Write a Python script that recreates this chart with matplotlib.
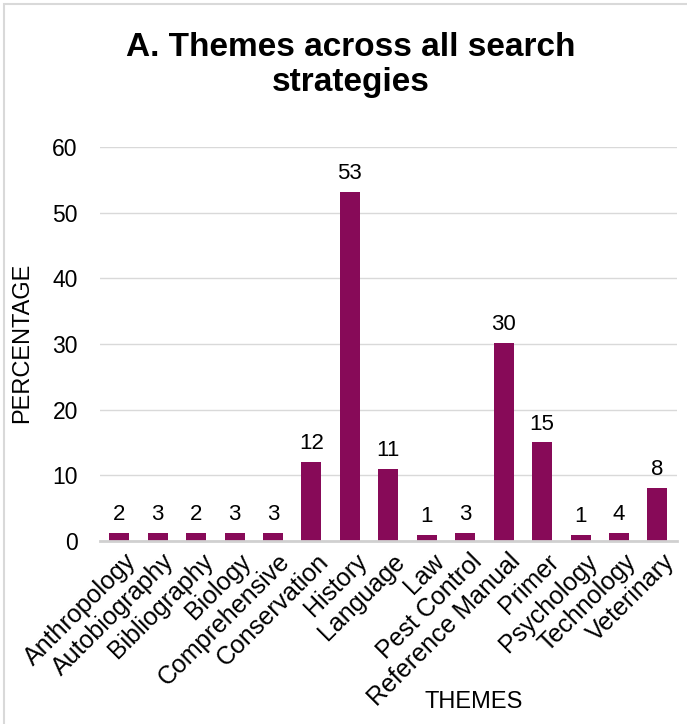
import matplotlib.pyplot as plt
from matplotlib.patches import Rectangle

plt.rcParams["font.family"] = ["Liberation Sans", "DejaVu Sans"]

# Data
themes = ["Anthropology", "Autobiography", "Bibliography", "Biology", "Comprehensive",
          "Conservation", "History", "Language", "Law", "Pest Control",
          "Reference Manual", "Primer", "Psychology", "Technology", "Veterinary"]
heights = [1.2, 1.2, 1.2, 1.2, 1.2, 12, 53.2, 11, 0.9, 1.2, 30.2, 15, 0.9, 1.2, 8.1]
labels = ["2", "3", "2", "3", "3", "12", "53", "11", "1", "3", "30", "15", "1", "4", "8"]

fig = plt.figure(figsize=(6.87, 7.24), dpi=100)
ax = fig.add_axes([0.1456, 0.2528, 0.8394, 0.5442])

x = range(len(themes))
bars = ax.bar(x, heights, width=0.52, color="#870A58", zorder=3)
for b, lab in zip(bars, labels):
    ax.text(b.get_x() + b.get_width() / 2, b.get_height() + 1.2, lab,
            ha="center", va="bottom", fontsize=16, color="black")

ax.set_xlim(-0.5, len(themes) - 0.5)
ax.set_ylim(0, 60)
ax.set_yticks(range(0, 61, 10))
ax.grid(axis="y", color="#D9D9D9", linewidth=1, zorder=0)
for s in ["top", "right", "left"]:
    ax.spines[s].set_visible(False)
ax.spines["bottom"].set_color("#D0D0D0")
ax.spines["bottom"].set_linewidth(2)
ax.spines["bottom"].set_zorder(4)
ax.tick_params(axis="y", length=0, labelsize=16.5, pad=16)
ax.set_xticks([i + 0.12 for i in x])
ax.set_xticklabels(themes, rotation=45, ha="right", rotation_mode="anchor")
ax.tick_params(axis="x", length=0, labelsize=18, pad=6)

fig.text(0.51, 0.910, "A. Themes across all search\nstrategies", ha="center", va="center",
         fontsize=24, fontweight="bold", linespacing=1.15)
fig.text(0.032, 0.526, "PERCENTAGE", rotation=90, ha="center", va="center", fontsize=17)
fig.text(0.69, 0.031, "THEMES", ha="center", va="center", fontsize=17)

fig.patches.append(Rectangle((0.006, -0.01), 1.2, 1.004, transform=fig.transFigure,
                             fill=False, edgecolor="#D9D9D9", linewidth=1.5))

fig.savefig("out.png", dpi=100)
